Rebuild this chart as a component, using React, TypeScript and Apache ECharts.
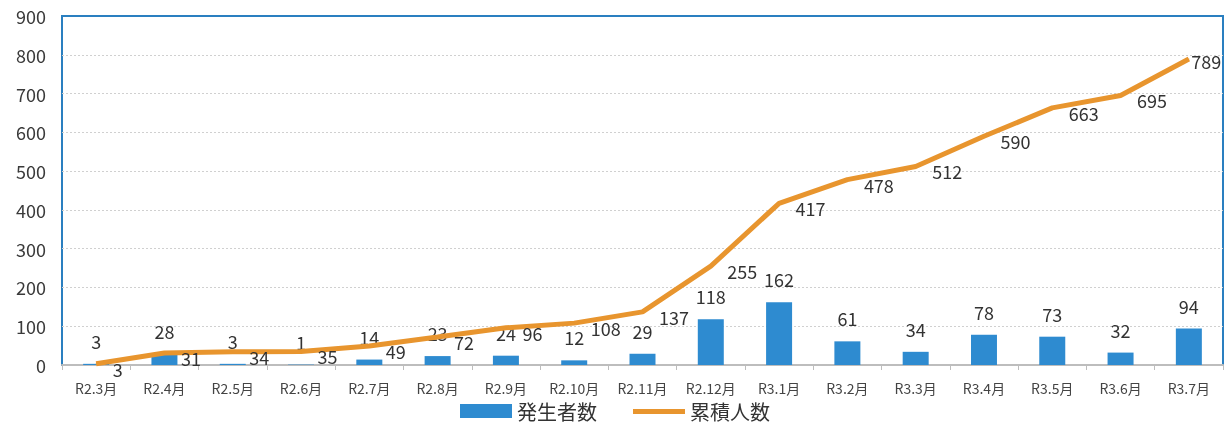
import React, { useEffect, useRef } from "react";
import * as echarts from "echarts";

const categories = ["R2.3月","R2.4月","R2.5月","R2.6月","R2.7月","R2.8月","R2.9月","R2.10月","R2.11月","R2.12月","R3.1月","R3.2月","R3.3月","R3.4月","R3.5月","R3.6月","R3.7月"];
const newCases = [3,28,3,1,14,23,24,12,29,118,162,61,34,78,73,32,94];
const cumulative = [3,31,34,35,49,72,96,108,137,255,417,478,512,590,663,695,789];
const yTicks = { min: 0, max: 900, interval: 100 };

const FONT = "'Noto Sans CJK JP', 'Noto Sans', sans-serif";

export default function App() {
  const ref = useRef<HTMLDivElement>(null);
  useEffect(() => {
    const chart = echarts.init(ref.current!, undefined, { renderer: "svg" });
    const lineData = cumulative.map((v, i) =>
      i === cumulative.length - 1
        ? { value: v, label: { distance: 2, offset: [0, 2] } }
        : v
    );
    chart.setOption({
      animation: false,
      textStyle: { fontFamily: FONT },
      grid: {
        left: 62, right: 7, top: 16, bottom: 59,
        show: true, borderColor: "#2a7fc0", borderWidth: 2,
        backgroundColor: "transparent",
      },
      legend: {
        bottom: 3,
        left: "center",
        padding: 0,
        itemWidth: 52,
        itemHeight: 14,
        itemGap: 36,
        textStyle: { fontSize: 20, lineHeight: 20, color: "#333", fontFamily: FONT },
        data: [
          { name: "発生者数", icon: "rect" },
          {
            name: "累積人数",
            icon: "path://M0,0 L0.01,0 Z M0,5 L52,5 L52,10 L0,10 Z M0,14 L0.01,14 Z",
            itemStyle: { color: "#e8952e" },
          },
        ],
      },
      xAxis: {
        type: "category",
        data: categories,
        axisLine: { lineStyle: { color: "#bdbdbd", width: 2 } },
        axisTick: { show: true, length: 5, lineStyle: { color: "#bdbdbd" } },
        axisLabel: { interval: 0, fontSize: 14, lineHeight: 16, color: "#444", margin: 15, fontFamily: FONT },
      },
      yAxis: {
        type: "value",
        min: yTicks.min,
        max: yTicks.max,
        interval: yTicks.interval,
        axisLine: { show: false },
        axisTick: { show: false },
        axisLabel: { fontSize: 18, color: "#3a3a3a", margin: 16, fontFamily: FONT },
        splitLine: { showMaxLine: false, lineStyle: { color: "#d0d0d0", type: [2, 2], width: 1 } },
      },
      series: [
        {
          name: "発生者数",
          type: "bar",
          data: newCases,
          barWidth: 26,
          itemStyle: { color: "#2e8bd0" },
          label: {
            show: true, position: "top", distance: 14,
            fontSize: 18, color: "#333", fontFamily: FONT,
          },
        },
        {
          name: "累積人数",
          type: "line",
          data: lineData,
          symbol: "circle",
          symbolSize: 1,
          showSymbol: true,
          lineStyle: { color: "#e8952e", width: 5 },
          itemStyle: { color: "#e8952e" },
          label: {
            show: true, position: "right", distance: 16, offset: [0, 5],
            fontSize: 18, color: "#333", fontFamily: FONT,
          },
          z: 3,
        },
      ],
    });
    return () => chart.dispose();
  }, []);
  return (
    <div
      ref={ref}
      style={{ position: "fixed", left: 0, top: 0, width: 1230, height: 424 }}
    />
  );
}
